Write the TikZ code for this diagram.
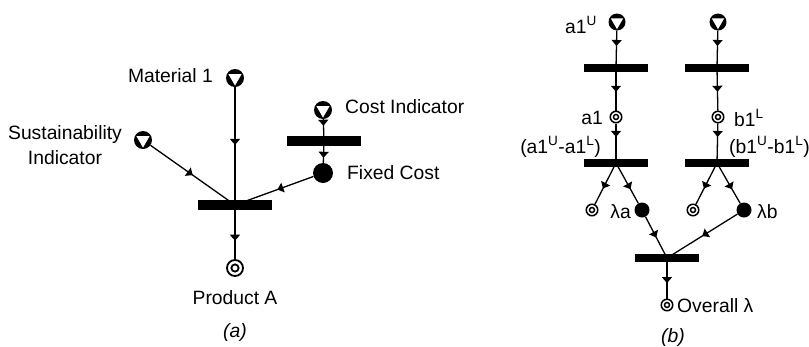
\documentclass[tikz,border=0pt]{standalone}
\usepackage{fontspec}
\setmainfont{Liberation Sans}
\usetikzlibrary{arrows.meta,decorations.markings}

\tikzset{
  srcnode/.style={circle, fill=black, minimum size=#1, inner sep=0pt,
    path picture={\fill[white] (path picture bounding box.center)
      +(150:0.42*#1) -- +(30:0.42*#1) -- +(270:0.42*#1) -- cycle;}},
  srcnode/.default=18pt,
  prodnode/.style={circle, draw, line width=1.8pt, minimum size=16pt, inner sep=0pt,
    path picture={\draw[line width=1.8pt] (path picture bounding box.center) circle (3.6pt);}},
  smallprod/.style={circle, draw, line width=1.5pt, minimum size=11.5pt, inner sep=0pt,
    path picture={\draw[line width=1.5pt] (path picture bounding box.center) circle (2.5pt);}},
  dotnode/.style={circle, fill=black, minimum size=#1, inner sep=0pt},
  dotnode/.default=20pt,
  transbar/.style={rectangle, fill=black, minimum width=74pt, minimum height=10pt, inner sep=0pt},
  smallbar/.style={rectangle, fill=black, minimum width=64pt, minimum height=7.5pt, inner sep=0pt},
  lbl/.style={inner sep=0pt},
  flow/.style={line width=1.3pt, decoration={markings,
    mark=at position #1 with {\arrow{Triangle[width=10pt,length=6pt]}}},
    postaction={decorate}},
  flow/.default=0.5
}

\begin{document}
\begin{tikzpicture}[x=1pt,y=1pt,font=\fontsize{19.3}{25}\selectfont]
\useasboundingbox (0,0) rectangle (809,-346);

\node[srcnode] (mat) at (235,-78) {};
\node[lbl,anchor=east] (matlbl) at (213,-76) {Material 1};
\node[srcnode] (sus) at (143,-140) {};
\node[lbl,align=center] (suslbl) at (65,-145) {Sustainability\\Indicator};
\node[srcnode] (cost) at (323,-110) {};
\node[lbl,anchor=west] (costlbl) at (345,-107) {Cost Indicator};
\node[transbar] (cbar) at (324,-141) {};
\node[dotnode] (fixed) at (323,-173) {};
\node[lbl,anchor=west] (fixedlbl) at (347,-173) {Fixed Cost};
\node[transbar] (bar1) at (235,-205) {};
\node[prodnode] (prodA) at (235,-268) {};
\node[lbl] (prodlbl) at (235,-298) {Product A};
\node[lbl] (capa) at (235,-332) {\itshape (a)};

\draw[flow=0.49] (mat) -- (bar1.center);
\draw[flow=0.5] (sus) -- (bar1.center);
\draw[flow=0.46] (fixed) -- (bar1.center);
\draw[flow=0.3] (cost) -- (cbar.center);
\draw[flow=0.77] (cbar.center) -- (fixed);
\draw[flow=0.66] (bar1.center) -- (prodA);

\node[srcnode=17pt] (au) at (617,-22) {};
\node[lbl,anchor=east] (aulbl) at (597,-25) {a1\textsuperscript{U}};
\node[srcnode=17pt] (bu) at (718,-22) {};
\node[smallbar] (abar1) at (616,-68) {};
\node[smallbar] (bbar1) at (717,-68) {};
\node[smallprod] (a1) at (616,-117) {};
\node[lbl,anchor=east] (a1lbl) at (603,-118) {a1};
\node[smallprod] (b1) at (718,-117) {};
\node[lbl,anchor=west] (b1lbl) at (734,-118) {b1\textsuperscript{L}};
\node[lbl,anchor=east] (adiff) at (601,-147) {(a1\textsuperscript{U}-a1\textsuperscript{L})};
\node[lbl,anchor=west] (bdiff) at (729,-147) {(b1\textsuperscript{U}-b1\textsuperscript{L})};
\node[smallbar] (abar2) at (616,-163) {};
\node[smallbar] (bbar2) at (717,-163) {};
\node[smallprod] (aw) at (592,-210) {};
\node[dotnode=15pt] (la) at (642,-210) {};
\node[lbl,anchor=east] (lalbl) at (631,-212) {λa};
\node[smallprod] (bw) at (693,-210) {};
\node[dotnode=15pt] (lb) at (744,-210) {};
\node[lbl,anchor=west] (lblbl) at (757,-212) {λb};
\node[smallbar] (obar) at (667,-258) {};
\node[smallprod] (overall) at (667,-305) {};
\node[lbl,anchor=west] (ovlbl) at (677,-306) {Overall λ};
\node[lbl] (capb) at (673,-337) {\itshape (b)};

\draw[flow=0.41] (au) -- (abar1.center);
\draw[flow=0.41] (bu) -- (bbar1.center);
\draw[flow=0.56] (abar1.center) -- (a1);
\draw[flow=0.56] (bbar1.center) -- (b1);
\draw[flow=0.34] (a1) -- (abar2.center);
\draw[flow=0.34] (b1) -- (bbar2.center);
\draw[flow=0.62] (abar2.center) -- (aw);
\draw[flow=0.65] (abar2.center) -- (la);
\draw[flow=0.62] (bbar2.center) -- (bw);
\draw[flow=0.65] (bbar2.center) -- (lb);
\draw[flow=0.5] (la) -- (obar.center);
\draw[flow=0.5] (lb) -- (obar.center);
\draw[flow=0.62] (obar.center) -- (overall);
\end{tikzpicture}
\end{document}
